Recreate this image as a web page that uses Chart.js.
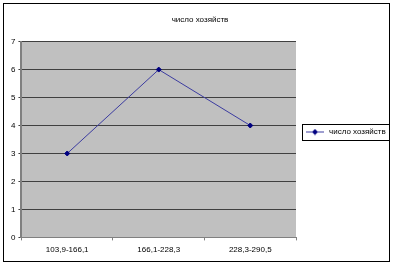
<!DOCTYPE html>
<html><head><meta charset="utf-8">
<script src="https://cdn.jsdelivr.net/npm/chart.js@4/dist/chart.umd.min.js"></script>
<style>html,body{margin:0;padding:0;background:#fff}#wrap{width:393px;height:265px;position:relative}</style>
</head><body><div id="wrap"><canvas id="c"></canvas></div>
<script>
const categories = ["103,9-166,1", "166,1-228,3", "228,3-290,5"];
const values = [3, 6, 4];
const seriesName = "число хозяйств";
const titleText = "число хозяйств";
const yTicks = [0, 1, 2, 3, 4, 5, 6, 7];

const FONT = "'Liberation Sans', Arial, sans-serif";

// legend marker: line with diamond
const mk = document.createElement('canvas');
mk.width = 18; mk.height = 7;
(function(){
  const g = mk.getContext('2d');
  g.strokeStyle = '#3c3ca0'; g.lineWidth = 1;
  g.beginPath(); g.moveTo(0, 3.5); g.lineTo(18, 3.5); g.stroke();
  g.fillStyle = '#000080';
  g.beginPath(); g.moveTo(9, 0.5); g.lineTo(12, 3.5); g.lineTo(9, 6.5); g.lineTo(6, 3.5); g.closePath(); g.fill();
})();

const decor = {
  id: 'decor',
  beforeDraw(chart) {
    const ctx = chart.ctx, a = chart.chartArea;
    ctx.save();
    ctx.fillStyle = '#fff';
    ctx.fillRect(0, 0, chart.width, chart.height);
    ctx.fillStyle = '#c0c0c0';
    ctx.fillRect(a.left, a.top, a.right - a.left, a.bottom - a.top);
    ctx.restore();
  },
  afterDraw(chart) {
    const ctx = chart.ctx;
    ctx.save();
    ctx.strokeStyle = '#000'; ctx.lineWidth = 1;
    ctx.strokeRect(3.5, 3.5, 386, 258);
    const hb = chart.legend.legendHitBoxes[0];
    if (hb) {
      const l = Math.round(hb.left) - 3, t = Math.round(hb.top) - 4;
      const r = Math.round(hb.left + hb.width) + 3, b = Math.round(hb.top + hb.height) + 4;
      ctx.strokeRect(l + 0.5, t + 0.5, r - l, b - t);
    }
    ctx.restore();
  }
};

new Chart(document.getElementById('c'), {
  type: 'line',
  data: {
    labels: categories,
    datasets: [{
      label: seriesName,
      data: values,
      borderColor: '#3c3ca0',
      borderWidth: 1,
      backgroundColor: '#000080',
      pointBackgroundColor: '#000080',
      pointBorderColor: '#000080',
      pointStyle: 'rectRot',
      pointRadius: 2.5,
      tension: 0,
      fill: false
    }]
  },
  options: {
    responsive: true,
    maintainAspectRatio: false,
    animation: false,
    devicePixelRatio: 1,
    layout: { padding: { left: 8, right: 1, top: 4, bottom: 5 } },
    plugins: {
      title: {
        display: true, text: titleText, color: '#000',
        font: { family: FONT, size: 8, weight: 'normal' },
        padding: { top: 11, bottom: 17 }
      },
      legend: {
        display: true, position: 'right', align: 'center',
        labels: {
          color: '#000',
          font: { family: FONT, size: 8 },
          usePointStyle: true,
          pointStyle: mk,
          pointStyleWidth: 20,
          boxHeight: 7,
          padding: 9
        }
      },
      tooltip: { enabled: false }
    },
    scales: {
      x: {
        offset: true,
        grid: { display: true, offset: true, drawOnChartArea: false, drawTicks: true, tickLength: 3, color: '#808080' },
        border: { display: true, color: '#808080', width: 1 },
        ticks: { color: '#000', font: { family: FONT, size: 8 }, padding: 5, maxRotation: 0 }
      },
      y: {
        min: 0, max: 7,
        afterBuildTicks(axis) { axis.ticks = yTicks.map(v => ({ value: v })); },
        grid: { color: '#404040', lineWidth: 1, drawTicks: true, tickLength: 3 },
        border: { display: true, color: '#808080', width: 2 },
        ticks: { color: '#000', font: { family: FONT, size: 8 }, padding: 3 }
      }
    }
  },
  plugins: [decor]
});
</script></body></html>
